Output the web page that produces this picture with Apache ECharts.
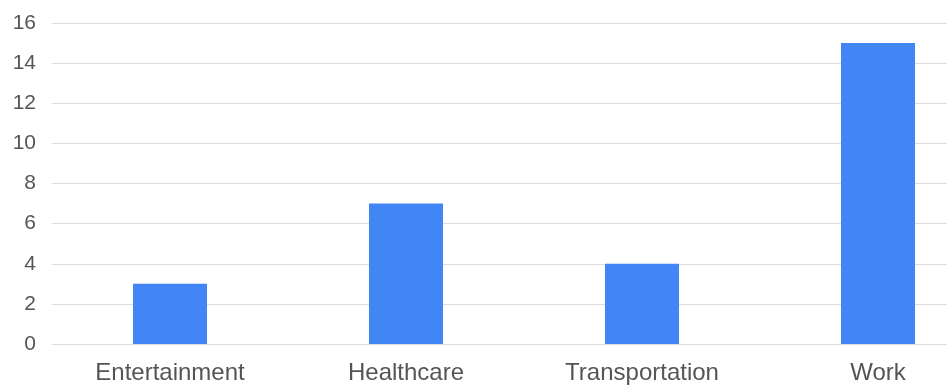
<!DOCTYPE html>
<html>
<head>
<meta charset="utf-8">
<script src="https://cdn.jsdelivr.net/npm/echarts@6/dist/echarts.min.js"></script>
<style>
  html, body { margin: 0; padding: 0; background: #fff; overflow: hidden; }
  /* the plot area is wider than the visible window; the last column is cut at the edge */
  #chart { width: 996px; height: 385px; }
</style>
</head>
<body>
<div id="chart"></div>
<script>
const categories = ['Entertainment', 'Healthcare', 'Transportation', 'Work'];
const values = [3, 7, 4, 15];

const chart = echarts.init(document.getElementById('chart'), null, { renderer: 'canvas' });
chart.setOption({
  animation: false,
  backgroundColor: '#ffffff',
  grid: { left: 52, top: 23, bottom: 40, right: 0 },
  xAxis: {
    type: 'category',
    data: categories,
    axisLine: { show: false },
    axisTick: { show: false },
    axisLabel: {
      color: '#555555',
      fontFamily: 'Liberation Sans, Arial, sans-serif',
      fontSize: 24,
      margin: 17
    }
  },
  yAxis: {
    type: 'value',
    min: 0,
    max: 16,
    interval: 2,
    axisLine: { show: false },
    axisTick: { show: false },
    splitLine: { lineStyle: { color: '#dddddd', width: 1 } },
    axisLabel: {
      color: '#555555',
      fontFamily: 'Liberation Sans, Arial, sans-serif',
      fontSize: 21,
      margin: 16
    }
  },
  series: [{
    type: 'bar',
    data: values,
    barWidth: 74,
    itemStyle: { color: '#4285f4' }
  }]
});
</script>
</body>
</html>
